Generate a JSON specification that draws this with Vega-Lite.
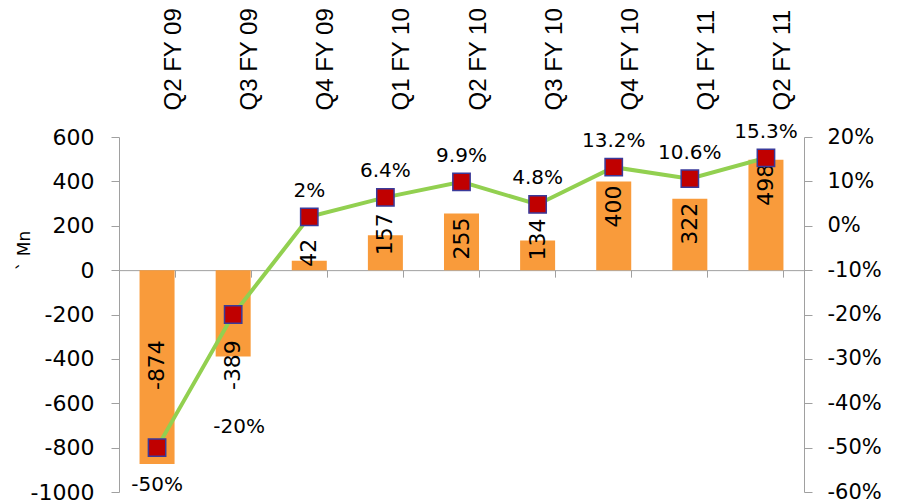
{
  "$schema": "https://vega.github.io/schema/vega-lite/v6.json",
  "width": 685,
  "height": 355,
  "autosize": "none",
  "padding": {"left": 119, "top": 137, "right": 97, "bottom": 11},
  "background": "white",
  "config": {"view": {"stroke": null}, "font": "DejaVu Sans"},
  "data": {
    "values": [
      {"q": "Q2 FY 09", "mn": -874, "pct": -0.50, "pctLabel": "-50%"},
      {"q": "Q3 FY 09", "mn": -389, "pct": -0.20, "pctLabel": "-20%"},
      {"q": "Q4 FY 09", "mn": 42, "pct": 0.02, "pctLabel": "2%"},
      {"q": "Q1 FY 10", "mn": 157, "pct": 0.064, "pctLabel": "6.4%"},
      {"q": "Q2 FY 10", "mn": 255, "pct": 0.099, "pctLabel": "9.9%"},
      {"q": "Q3 FY 10", "mn": 134, "pct": 0.048, "pctLabel": "4.8%"},
      {"q": "Q4 FY 10", "mn": 400, "pct": 0.132, "pctLabel": "13.2%"},
      {"q": "Q1 FY 11", "mn": 322, "pct": 0.106, "pctLabel": "10.6%"},
      {"q": "Q2 FY 11", "mn": 498, "pct": 0.153, "pctLabel": "15.3%"}
    ]
  },
  "layer": [
    {
      "encoding": {
        "x": {
          "field": "q", "type": "nominal", "sort": null,
          "scale": {"paddingInner": 0.54, "paddingOuter": 0.27},
          "axis": {
            "orient": "top", "title": null, "domain": false, "ticks": false,
            "labelAngle": -90, "labelPadding": 27, "labelOffset": 17,
            "labelFont": "Liberation Sans", "labelFontSize": 24, "labelColor": "black",
            "labelBaseline": "middle", "labelAlign": "left"
          }
        },
        "y": {
          "field": "mn", "type": "quantitative",
          "scale": {"domain": [-1000, 600], "nice": false, "zero": false},
          "axis": {
            "values": [-1000, -800, -600, -400, -200, 0, 200, 400, 600],
            "labelExpr": "'' + datum.value",
            "grid": false, "domainColor": "#A0A0A0", "tickColor": "#A0A0A0",
            "tickSize": 8, "labelPadding": 17, "labelFontSize": 22, "labelColor": "black",
            "labelFont": "DejaVu Sans",
            "title": "`  Mn", "titleFontSize": 17, "titleFontWeight": "normal", "titleColor": "black",
            "titleAngle": -90, "titleX": -95, "titleY": 113, "titleAlign": "center", "titleBaseline": "middle"
          }
        }
      },
      "layer": [
        {"mark": {"type": "bar", "color": "#F99B3B"}},
        {
          "transform": [{"filter": "datum.mn > 0 && datum.mn < 200"}],
          "mark": {"type": "text", "angle": 270, "align": "right", "baseline": "middle", "dx": 22, "fontSize": 22, "color": "black"},
          "encoding": {"text": {"field": "mn", "type": "nominal"}}
        },
        {
          "transform": [{"filter": "datum.mn >= 200"}],
          "mark": {"type": "text", "angle": 270, "align": "right", "baseline": "middle", "dx": -4, "fontSize": 22, "color": "black"},
          "encoding": {"text": {"field": "mn", "type": "nominal"}}
        },
        {
          "transform": [{"filter": "datum.mn < 0"}],
          "mark": {"type": "text", "angle": 270, "align": "right", "baseline": "middle", "dx": -70, "fontSize": 22, "color": "black"},
          "encoding": {"y": {"datum": 0}, "text": {"field": "mn", "type": "nominal"}}
        }
      ]
    },
    {
      "encoding": {
        "x": {
          "field": "q", "type": "nominal", "sort": null,
          "axis": {
            "orient": "bottom", "offset": -221.875, "title": null, "labels": false,
            "domainColor": "#A0A0A0", "tickColor": "#A0A0A0", "tickSize": 7, "tickBand": "extent"
          }
        },
        "y": {
          "field": "pct", "type": "quantitative",
          "scale": {"domain": [-0.6, 0.2], "nice": false, "zero": false},
          "axis": {
            "orient": "right",
            "values": [-0.6, -0.5, -0.4, -0.3, -0.2, -0.1, 0, 0.1, 0.2],
            "labelExpr": "'' + round(datum.value * 100) + '%'",
            "grid": false, "domainColor": "#A0A0A0", "tickColor": "#A0A0A0",
            "tickSize": 8, "labelPadding": 15, "labelFontSize": 21, "labelColor": "black",
            "title": null
          }
        }
      },
      "layer": [
        {"mark": {"type": "line", "color": "#92D050", "strokeWidth": 4}},
        {"mark": {"type": "point", "shape": "square", "filled": true, "size": 300, "color": "#C00000", "stroke": "#3A3A9A", "strokeWidth": 1.5, "opacity": 1}},
        {
          "transform": [{"filter": "datum.pct > 0"}],
          "mark": {"type": "text", "baseline": "middle", "dy": -26, "fontSize": 20, "color": "black"},
          "encoding": {"text": {"field": "pctLabel"}}
        },
        {
          "transform": [{"filter": "datum.q == 'Q2 FY 09'"}],
          "mark": {"type": "text", "baseline": "middle", "dy": 37, "fontSize": 20, "color": "black"},
          "encoding": {"text": {"field": "pctLabel"}}
        },
        {
          "transform": [{"filter": "datum.q == 'Q3 FY 09'"}],
          "mark": {"type": "text", "baseline": "middle", "dy": 112, "dx": 6, "fontSize": 20, "color": "black"},
          "encoding": {"text": {"field": "pctLabel"}}
        }
      ]
    }
  ],
  "resolve": {"scale": {"y": "independent"}, "axis": {"x": "independent"}}
}
